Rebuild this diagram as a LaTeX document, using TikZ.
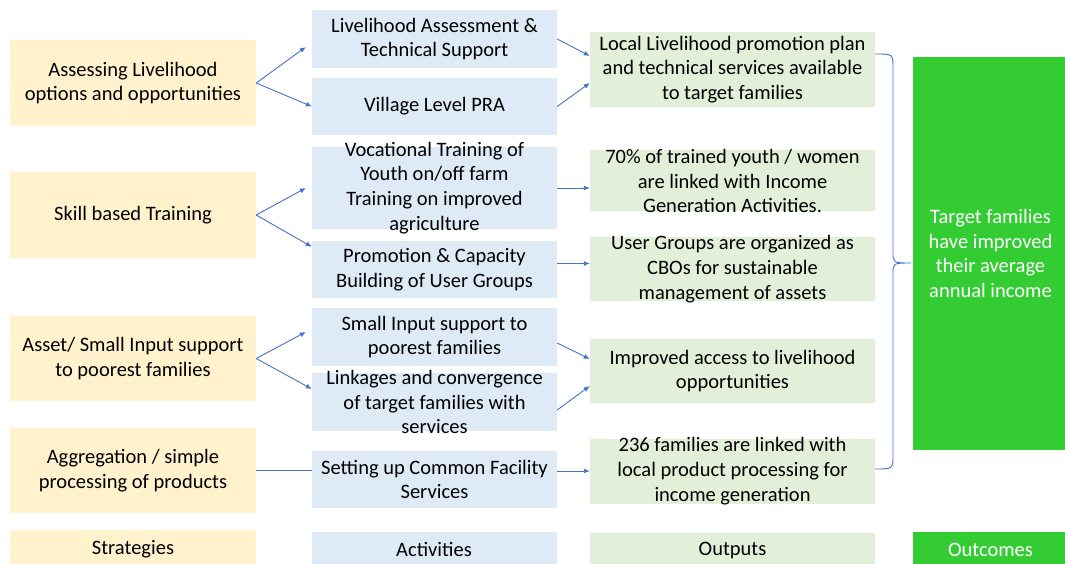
\documentclass[tikz,border=0pt]{standalone}
\usepackage{fontspec}
\setmainfont{Carlito}
\usetikzlibrary{arrows.meta,positioning,calc}
\definecolor{stratfill}{HTML}{FFF2CC}
\definecolor{actfill}{HTML}{DEEBF7}
\definecolor{outfill}{HTML}{E2F0D9}
\definecolor{goalfill}{HTML}{33CC33}
\definecolor{linkblue}{HTML}{4472C4}
\tikzset{
  txt/.style={align=center, inner sep=0pt, font=\fontsize{20.5}{24.8}\selectfont},
  strat/.style={fill=stratfill, inner sep=0pt, minimum width=246pt},
  act/.style={fill=actfill, inner sep=0pt, minimum width=245pt},
  outp/.style={fill=outfill, inner sep=0pt, minimum width=285pt},
  goal/.style={fill=goalfill, inner sep=0pt, minimum width=155pt},
  link/.style={linkblue, line width=0.9pt, -{Latex[length=6pt,width=5pt]}},
  plain/.style={linkblue, line width=0.9pt}
}

\begin{document}
\begin{tikzpicture}[x=1pt,y=-1pt]
      \useasboundingbox (0,0) rectangle (1065,564);
      \begin{scope}
        \node[strat, minimum height=86pt, label={[txt]center:{Assessing Livelihood\\options and opportunities}}] (s1) at (133,83) {};
        \node[strat, minimum height=86pt, label={[txt]center:{Skill based Training}}] (s2) at (133,215) {};
        \node[strat, minimum height=85pt, label={[txt]center:{Asset/ Small Input support\\to poorest families}}] (s3) at (133,358.5) {};
        \node[strat, minimum height=85pt, label={[txt]center:{Aggregation / simple\\processing of products}}] (s4) at (133,470.5) {};
        \node[strat, minimum height=38pt, label={[txt]center:{Strategies}}] (s0) at (133,549) {};
      \end{scope}
      \begin{scope}
        \node[act, minimum height=58pt, label={[txt]center:{Livelihood Assessment \&\\Technical Support}}] (a1) at (434.5,39) {};
        \node[act, minimum height=57pt, label={[txt]center:{Village Level PRA}}] (a2) at (434.5,106.5) {};
        \node[act, minimum height=81pt, label={[txt]center:{Vocational Training of\\Youth on/off farm\\Training on improved\\agriculture}}] (a3) at (434.5,188) {};
        \node[act, minimum height=57pt, label={[txt]center:{Promotion \& Capacity\\Building of User Groups}}] (a4) at (434.5,269.5) {};
        \node[act, minimum height=58pt, label={[txt]center:{Small Input support to\\poorest families}}] (a5) at (434.5,337) {};
        \node[act, minimum height=58pt, label={[txt]center:{Linkages and convergence\\of target families with\\services}}] (a6) at (434.5,402) {};
        \node[act, minimum height=57pt, label={[txt]center:{Setting up Common Facility\\Services}}] (a7) at (434.5,479.5) {};
        \node[act, minimum height=35pt, label={[txt]center:{Activities}}] (a0) at (434,549.5) {};
      \end{scope}
      \begin{scope}
        \node[outp, minimum height=75pt, label={[txt]center:{Local Livelihood promotion plan\\and technical services available\\to target families}}] (o1) at (732.5,69.5) {};
        \node[outp, minimum height=61pt, label={[txt]center:{70\% of trained youth / women\\are linked with Income\\Generation Activities.}}] (o2) at (732.5,181) {};
        \node[outp, minimum height=64pt, label={[txt]center:{User Groups are organized as\\CBOs for sustainable\\management of assets}}] (o3) at (732.5,269) {};
        \node[outp, minimum height=64pt, label={[txt]center:{Improved access to livelihood\\opportunities}}] (o4) at (732.5,371) {};
        \node[outp, minimum height=65pt, label={[txt]center:{236 families are linked with\\local product processing for\\income generation}}] (o5) at (732.5,471) {};
        \node[outp, minimum height=34pt, label={[txt]center:{Outputs}}] (o0) at (732.5,550) {};
      \end{scope}
      \begin{scope}
        \node[goal, minimum height=393pt, label={[txt,white]center:{Target families\\have improved\\their average\\annual income}}] (g1) at (990.5,253.5) {};
        \node[goal, minimum height=35pt, label={[txt,white]center:{Outcomes}}] (g0) at (990.5,549.5) {};
      \end{scope}
      \begin{scope}
        \draw[link] (s1.east) -- ([xshift=-6pt,yshift=-8pt]a1.west); % to assessment
        \draw[link] (s1.east) -- (a2.west); % to PRA
        \draw[link] (s2.east) -- ([xshift=-6pt]a3.west); % to vocational
        \draw[link] (s2.east) -- ([yshift=-6pt]a4.north west); % to user groups
        \draw[link] (s3.east) -- ([xshift=-6pt,yshift=5pt]a5.west); % to input support
        \draw[link] (s3.east) -- ([yshift=13pt]a6.west); % to linkages
        \draw[plain] (s4.east) -- (s4.east -| a7.west); % to facility
      \end{scope}
      \begin{scope}
        \draw[link] (a1.east) -- ([yshift=13.5pt]o1.west);
        \draw[link] (a2.east) -- ([yshift=-13.5pt]o1.west);
        \draw[link] (a3.east) -- (a3.east -| o2.west);
        \draw[link] ([yshift=6pt]a4.east) -- ([yshift=6pt]a4.east -| o3.west);
        \draw[link] ([yshift=-6pt]a5.east) -- ([yshift=12pt]o4.west);
        \draw[link] ([yshift=-8pt]a6.east) -- ([yshift=-15pt]o4.west);
        \draw[link] (a7.east |- o5.west) -- (o5.west);
      \end{scope}
      \begin{scope}
        \coordinate (bt) at (875,54); % brace top
        \coordinate (bb) at (875,469); % brace bottom
        \coordinate (btip) at (911,263); % brace tip
        \draw[plain] (bt) .. controls (893,54) .. (893,68) -- (893,252)
          .. controls (893,263) .. (btip) .. controls (893,263) .. (893,274)
          -- (893,455) .. controls (893,469) .. (bb);
      \end{scope}
    \end{tikzpicture}
\end{document}
